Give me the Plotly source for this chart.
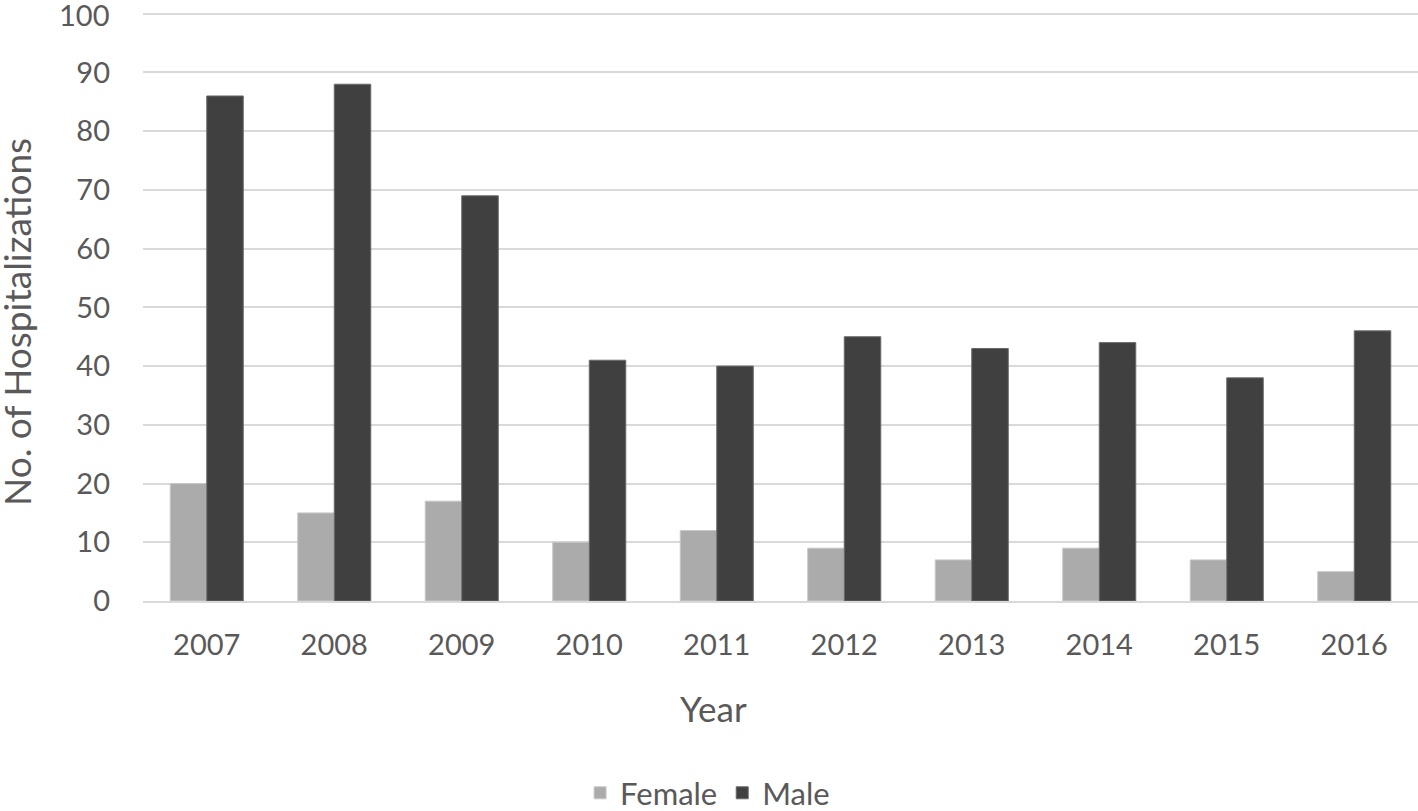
import plotly.graph_objects as go

years = ["2007", "2008", "2009", "2010", "2011", "2012", "2013", "2014", "2015", "2016"]
female = [20, 15, 17, 10, 12, 9, 7, 9, 7, 5]
male = [86, 88, 69, 41, 40, 45, 43, 44, 38, 46]
y_ticks = [0, 10, 20, 30, 40, 50, 60, 70, 80, 90, 100]

FONT = "Lato, 'Open Sans', sans-serif"
TXT = "#595959"

fig = go.Figure()
fig.add_trace(go.Bar(x=years, y=female, name="Female",
                     marker=dict(color="#ababab", line=dict(color="#c8c8c8", width=1))))
fig.add_trace(go.Bar(x=years, y=male, name="Male",
                     marker=dict(color="#404040", line=dict(color="#6a6a6a", width=1))))

W, H = 1418, 811
L, R, T, B = 143, 0, 12, 210

# top tick label drawn as annotation (plotly hides it when it touches the page edge)
tick_text = [str(v) for v in y_ticks[:-1]] + [""]

fig.update_layout(
    width=W, height=H,
    margin=dict(l=L, r=R, t=T, b=B, autoexpand=False),
    paper_bgcolor="white", plot_bgcolor="white",
    barmode="group", bargap=0.427, bargroupgap=0,
    font=dict(family=FONT, color=TXT, size=29),
    showlegend=True,
    legend=dict(orientation="h", xref="container", yref="container",
                x=0.499, xanchor="center", y=0.022, yanchor="middle",
                font=dict(size=31, color=TXT), itemwidth=30, traceorder="normal"),
    xaxis=dict(showgrid=False, showline=True, linecolor="#d9d9d9", linewidth=2,
               ticks="", tickfont=dict(size=29, color=TXT), ticklabelstandoff=17),
    yaxis=dict(range=[0, 100.3], tickvals=y_ticks, ticktext=tick_text, showgrid=True,
               gridcolor="#d9d9d9", gridwidth=2, zeroline=False, showline=False, ticks="",
               tickfont=dict(size=29, color=TXT), ticklabelstandoff=32),
    annotations=[
        dict(text=str(y_ticks[-1]), xref="paper", yref="y", x=0, y=y_ticks[-1],
             xanchor="right", yanchor="middle", xshift=-32, yshift=-1, showarrow=False,
             font=dict(size=29, color=TXT)),
        dict(text="Year", xref="paper", yref="paper",
             x=(713 - L) / (W - L - R), y=-(708 - (H - B)) / (H - T - B),
             xanchor="center", yanchor="middle", showarrow=False,
             font=dict(size=35, color=TXT)),
        dict(text="No. of Hospitalizations", xref="paper", yref="paper",
             x=-(L - 16) / (W - L - R), y=(H - B - 322) / (H - T - B),
             xanchor="center", yanchor="middle", showarrow=False, textangle=-90,
             font=dict(size=37, color=TXT)),
    ],
)

fig.write_html("out.html", config={"displayModeBar": False},
               post_script="document.body.style.margin='0px';document.body.style.overflow='hidden';")
